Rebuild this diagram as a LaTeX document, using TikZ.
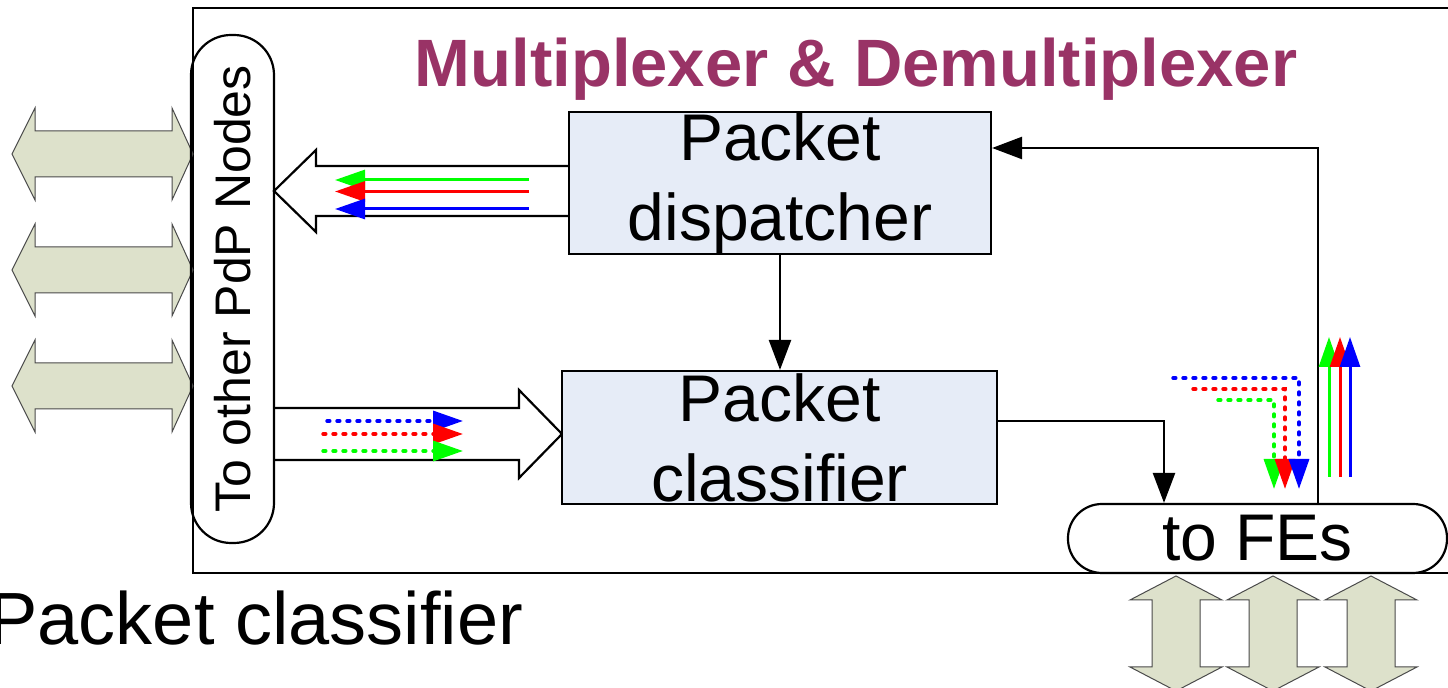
\documentclass[tikz,border=0pt]{standalone}
\usepackage{fontspec}
\setmainfont{Liberation Sans}
\usetikzlibrary{arrows.meta}
\definecolor{titlec}{HTML}{993366}
\definecolor{boxfill}{HTML}{E6ECF7}
\definecolor{dblfill}{HTML}{DDE1CB}
\definecolor{dbledge}{HTML}{4A4A4A}
\definecolor{cgreen}{HTML}{00FF00}
\definecolor{cred}{HTML}{FF0000}
\definecolor{cblue}{HTML}{0000FF}
\begin{document}
\begin{tikzpicture}[x=0.5pt,y=-0.5pt,
  procbox/.style={draw=black, line width=1.1pt, fill=boxfill, inner sep=0pt, align=center,
    font=\fontsize{33}{40}\selectfont},
  pillbox/.style={draw=black, line width=1.1pt, inner sep=0pt},
  blackarrow/.style={line width=1.25pt, -{Triangle[length=15pt,width=11pt]}},
  colarrow/.style={line width=1.5pt, -{Triangle[length=15pt,width=10pt]}},
  dotarrow/.style={colarrow, line width=1.7pt, dash pattern=on 1.4pt off 3.6pt, line cap=round},
  hollow/.style={draw=black, line width=1.1pt, fill=white, line join=miter},
  dblarrow/.style={draw=dbledge, line width=0.5pt, fill=dblfill, line join=miter}]
\useasboundingbox (0,0) rectangle (1448,688);
\clip (0,0) rectangle (1448,688);

% outer frame
\draw[line width=1.1pt] (1500,8) -- (193,8) -- (193,573) -- (1500,573);

% title
\node[font=\bfseries\fontsize{33.5}{40}\selectfont, text=titlec, anchor=base, inner sep=0pt]
  (title) at (856,87) {Multiplexer \& Demultiplexer};

% left double arrows
\foreach \c in {154,270,386}{
  \draw[dblarrow] (12,\c) -- (35,\c-46) -- (35,\c-23) -- (172,\c-23) -- (172,\c-46) -- (193,\c)
    -- (172,\c+46) -- (172,\c+23) -- (35,\c+23) -- (35,\c+46) -- cycle;
}

% bottom double arrows
\foreach \c in {1176,1273,1371}{
  \draw[dblarrow] (\c,576) -- (\c+46,600) -- (\c+24,600) -- (\c+24,667) -- (\c+46,667) -- (\c,691)
    -- (\c-46,667) -- (\c-24,667) -- (\c-24,600) -- (\c-46,600) -- cycle;
}

% hollow arrows
\draw[hollow] (569,166) -- (316,166) -- (316,150) -- (274,191) -- (316,232) -- (316,216) -- (569,216);
\draw[hollow] (274,408) -- (519,408) -- (519,390) -- (562,434) -- (519,478) -- (519,460) -- (274,460);

% boxes
\node[procbox, minimum width=211pt, minimum height=70pt] (disp) at (780,183) {Packet\\dispatcher};
\node[procbox, minimum width=217.5pt, minimum height=66.5pt] (clas) at (779.5,437.5) {Packet\\classifier};

% pills
\node[pillbox, rotate=90, minimum width=254pt, minimum height=41.5pt, rounded corners=20pt,
  font=\fontsize{25}{30}\selectfont] (pdp) at (232.5,289) {To other PdP Nodes};
\node[pillbox, minimum width=189.5pt, minimum height=34.5pt, rounded corners=17pt,
  font=\fontsize{33}{40}\selectfont] (fe) at (1257.5,538.5) {to FEs};

% black connectors
\draw[blackarrow] (disp.south) -- (disp.south |- clas.north);
\draw[blackarrow] ([yshift=8.25pt]clas.east) -| ([xshift=-46.75pt]fe.north);
\draw[blackarrow] ([xshift=30.25pt]fe.north) |- ([yshift=17.5pt]disp.east);

% coloured flows, dispatcher side
\draw[colarrow, cgreen] (529,180) -- (335,180);
\draw[colarrow, cred] (529,191.5) -- (335,191.5);
\draw[colarrow, cblue] (529,209) -- (335,209);

% coloured flows, classifier side
\draw[dotarrow, cblue] (327,421) -- (463,421);
\draw[dotarrow, cred] (323,434) -- (463,434);
\draw[dotarrow, cgreen] (323,451) -- (463,451);

% coloured flows to FEs
\draw[dotarrow, cgreen] (1218,400) -| (1274,489);
\draw[dotarrow, cred] (1193,389) -| (1285,489);
\draw[dotarrow, cblue] (1173,378) -| (1299,489);

% coloured flows from FEs
\draw[colarrow, cgreen] (1329,477) -- (1329,337);
\draw[colarrow, cred] (1340,477) -- (1340,337);
\draw[colarrow, cblue] (1350,477) -- (1350,337);

% caption
\node[anchor=base west, inner sep=0pt, font=\fontsize{37}{44}\selectfont] (cap) at (-12,645) {Packet classifier};
\end{tikzpicture}
\end{document}
